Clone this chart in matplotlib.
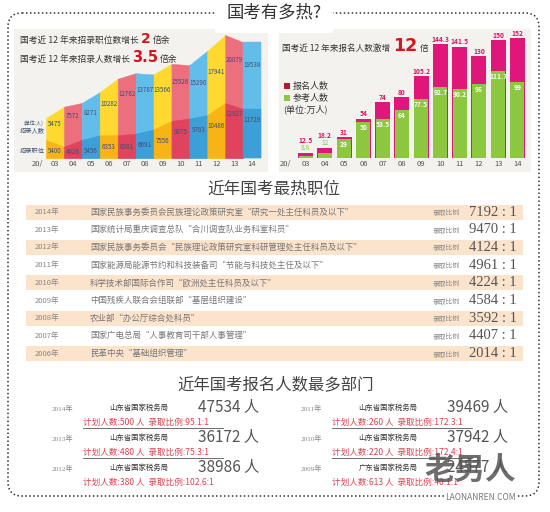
import numpy as np
import matplotlib.pyplot as plt
from matplotlib.patches import FancyBboxPatch, Rectangle

plt.rcParams['font.family'] = ['Noto Sans CJK SC', 'DejaVu Sans']

# ---- data ----
years = ['03', '04', '05', '06', '07', '08', '09', '10', '11', '12', '13', '14']
hire_people = [5475, 7572, 8271, 10282, 12762, 13787, 13566, 15526, 15290, 17941, 20879, 19538]
hire_posts = [5400, 4026, 5456, 6353, 6361, 6691, 7556, 9275, 9763, 10486, 12927, 11729]
applicants = [12.5, 18.2, 31, 54, 74, 80, 105.2, 144.3, 141.5, 130, 150, 152]
examinees = [8.8, 12, 29, 50, 53.5, 64, 77.5, 92.7, 90.2, 96, 111.7, 99]

hot_years = [2014, 2013, 2012, 2011, 2010, 2009, 2008, 2007, 2006]
hot_posts = ['国家民族事务委员会民族理论政策研究室“研究一处主任科员及以下”',
             '国家统计局重庆调查总队“合川调查队业务科室科员”',
             '国家民族事务委员会“民族理论政策研究室科研管理处主任科员及以下”',
             '国家能源局能源节约和科技装备司“节能与科技处主任及以下”',
             '科学技术部国际合作司“欧洲处主任科员及以下”',
             '中国残疾人联合会组联部“基层组织建设”',
             '农业部“办公厅综合处科员”',
             '国家广电总局“人事教育司干部人事管理”',
             '民革中央“基础组织管理”']
hot_ratios = [7192, 9470, 4124, 4961, 4224, 4584, 3592, 4407, 2014]

dept_years = [2014, 2013, 2012, 2011, 2010, 2009]
dept_names = ['山东省国家税务局'] * 5 + ['广东省国家税务局']
dept_counts = [47534, 36172, 38986, 39469, 37942, 24577]
dept_plan = [500, 480, 380, 260, 220, 613]
dept_ratio = [95.1, 75.3, 102.6, 172.3, 172.4, 40.1]

# ---- figure in pixel space ----
W, H = 550, 512
fig = plt.figure(figsize=(W / 100, H / 100), dpi=100)
bg = fig.add_axes([0, 0, 1, 1])
bg.set_xlim(0, W)
bg.set_ylim(H, 0)
bg.axis('off')


def frac(x0, y0, x1, y1):
    return [x0 / W, 1 - y1 / H, (x1 - x0) / W, (y1 - y0) / H]


# dotted frame and main title
bg.add_patch(FancyBboxPatch((8, 13), 531, 483, boxstyle='round,pad=0,rounding_size=14',
                            fill=False, ec='#333333', lw=1.1, ls=(0, (1, 1.6))))
bg.text(274, 13, '国考有多热?', ha='center', va='center', fontsize=12.5, color='#333333',
        bbox=dict(fc='white', ec='none', pad=8))

# panel backgrounds
bg.add_patch(Rectangle((14, 29), 254, 143, fc='#f3f2ee', ec='none'))
bg.add_patch(Rectangle((279, 29), 252, 143, fc='#f3f2ee', ec='none'))

# ---- left chart: hires ----
light = ['#ffd92f', '#ec6f7d', '#62bdea']
dark = ['#f8b415', '#e0435d', '#3d9fd8']
lab = '#3d4f73'

ax1 = fig.add_axes(frac(46, 30, 261, 158))
ax1.set_xlim(0, 12)
ax1.set_ylim(-1950, 21800)
ax1.axis('off')
ax1b = ax1.twinx()
ax1b.set_ylim(1730, 27770)
ax1b.axis('off')

top = hire_people + [hire_people[-1]]
low = hire_posts + [hire_posts[-1]]
for i in range(12):
    c = i % 3
    ax1.fill_between([i, i + 1], [top[i], top[i + 1]], -1950, color=light[c], lw=0.3, ec=light[c])
    ax1b.fill_between([i, i + 1], [low[i], low[i + 1]], 1730, color=dark[c], lw=0.3, ec=dark[c])
    ax1.text(i + 0.5, hire_people[i] * 0.78, str(hire_people[i]), ha='center', va='center',
             fontsize=4.5, color=lab)
    ax1b.text(i + 0.5, max(hire_posts[i] - 2300, 2950), str(hire_posts[i]), ha='center',
              va='center', fontsize=4.5, color=lab)
    ax1.annotate(years[i], xy=(i + 0.5, 0), xycoords=('data', 'axes fraction'),
                 xytext=(0, -4.5), textcoords='offset points', ha='center', va='center',
                 fontsize=5.5, color='#555555')
bg.text(37, 164, '20/', ha='center', va='center', fontsize=5.5, color='#555555')
bg.text(24, 123, '(单位:人)', ha='left', va='center', fontsize=3.6, color=lab)
bg.text(20, 130, '招录人数', ha='left', va='center', fontsize=4.5, color=lab)
bg.text(20, 151, '招录职位', ha='left', va='center', fontsize=4.5, color=lab)

big = dict(color='#d7141e', fontweight='bold', family=['Liberation Sans Narrow', 'DejaVu Sans'])
t = bg.text(20, 43, '国考近 12 年来招录职位数增长', fontsize=6.3, color='#333333', va='baseline')
t = bg.annotate('2', xy=(1, 0), xycoords=t, xytext=(1.5, -1), textcoords='offset points',
                va='bottom', fontsize=10, **big)
bg.annotate('倍余', xy=(1, 0), xycoords=t, xytext=(1.5, 1), textcoords='offset points',
            va='bottom', fontsize=6.3, color='#333333')
t = bg.text(20, 62, '国考近 12 年来招录人数增长', fontsize=6.3, color='#333333', va='baseline')
t = bg.annotate('3.5', xy=(1, 0), xycoords=t, xytext=(1.5, -1), textcoords='offset points',
                va='bottom', fontsize=10.5, **big)
bg.annotate('倍余', xy=(1, 0), xycoords=t, xytext=(1.5, 1), textcoords='offset points',
            va='bottom', fontsize=6.3, color='#333333')

# ---- right chart: applicants ----
pink = '#e0177b'
green = '#8dc63f'
ax2 = fig.add_axes(frac(296, 30, 527, 158))
ax2.set_xlim(-0.5, 11.5)
ax2.set_ylim(6, 161.7)
ax2.axis('off')
x = np.arange(len(years))
ax2.bar(x, applicants, width=0.78, color=pink)
ax2.bar(x, examinees, width=0.72, color=green)
for i in range(len(years)):
    if examinees[i] < 20:
        ax2.annotate(f'{examinees[i]:g}', xy=(i, applicants[i]), xytext=(0, 0.8),
                     textcoords='offset points', ha='center', va='bottom', fontsize=4.8, color=green)
        dy = 6.5
    else:
        ax2.annotate(f'{examinees[i]:g}', xy=(i, examinees[i]), xytext=(0, -1.5),
                     textcoords='offset points', ha='center', va='top', fontsize=4.8,
                     color='white', fontweight='bold')
        dy = 0.8
    ax2.annotate(f'{applicants[i]:g}', xy=(i, applicants[i]), xytext=(0, dy),
                 textcoords='offset points', ha='center', va='bottom', fontsize=4.8,
                 color='#d6145f', fontweight='bold')
    ax2.annotate(years[i], xy=(i, 0), xycoords=('data', 'axes fraction'),
                 xytext=(0, -4.5), textcoords='offset points', ha='center', va='center',
                 fontsize=5.5, color='#555555')
bg.text(285, 164, '20/', ha='center', va='center', fontsize=5.5, color='#555555')

t = bg.text(282, 51, '国考近 12 年来报名人数激增', fontsize=6.2, color='#333333', va='baseline')
t = bg.annotate('12', xy=(1, 0), xycoords=t, xytext=(2, -1.5), textcoords='offset points',
                va='bottom', fontsize=12.5, **big)
bg.annotate('倍', xy=(1, 0), xycoords=t, xytext=(2, 1.5), textcoords='offset points',
            va='bottom', fontsize=6.2, color='#333333')

bg.add_patch(Rectangle((284, 83), 6, 6, fc='#b5192f', ec='none'))
bg.add_patch(Rectangle((284, 95), 6, 6, fc=green, ec='none'))
bg.text(293, 86, '报名人数', va='center', fontsize=6.5, color='#333333')
bg.text(293, 98, '参考人数', va='center', fontsize=6.5, color='#333333')
bg.text(283, 109, '(单位:万人)', va='center', fontsize=6.5, color='#333333')

# ---- hottest posts table ----
bg.text(274, 189, '近年国考最热职位', ha='center', va='center', fontsize=12, color='#444444')
for k in range(len(hot_years)):
    y = 212 + 17.7 * k
    if k % 2 == 0:
        bg.add_patch(Rectangle((26, y - 7.5), 497, 15, fc='#fbe3cc', ec='none'))
    bg.text(35, y, f'{hot_years[k]}年', va='center', fontsize=5.5, color='#888888')
    bg.text(90, y, hot_posts[k], va='center', fontsize=6.1, color='#777777')
    bg.text(433, y + 1, '录取比例', va='center', fontsize=4.9, color='#888888')
    bg.text(517, y, f'{hot_ratios[k]} : 1', ha='right', va='center', fontsize=10.5,
            color='#555555', family=['Liberation Serif', 'DejaVu Serif'])

# ---- departments with most applicants ----
bg.text(276, 385, '近年国考报名人数最多部门', ha='center', va='center', fontsize=11.8, color='#444444')
for k in range(len(dept_years)):
    col, row = divmod(k, 3)
    dx = 249 * col
    y = 408 + 30 * row
    bg.text(52 + dx, y, f'{dept_years[k]}年', va='center', fontsize=5.2, color='#888888',
            family=['Liberation Serif', 'Noto Sans CJK SC'])
    bg.text(139 + dx, y, dept_names[k], ha='center', va='center', fontsize=5.3, color='#333333')
    bg.text(198 + dx, y - 1, f'{dept_counts[k]} 人', va='center', fontsize=11, color='#555555',
            fontweight='light')
    bg.text(83 + dx, y + 14, f'计划人数:{dept_plan[k]} 人  录取比例:{dept_ratio[k]:g}:1',
            va='center', fontsize=6.2, color='#d9434f')
    if row < 2:
        bg.plot([83 + dx, 223 + dx], [y + 20, y + 20], color='#555555', lw=0.6)

# watermark
bg.text(470, 470, '老男人', ha='center', va='center', fontsize=22, color='#555555',
        alpha=0.85, fontweight='bold')
bg.text(480, 498, 'LAONANREN.COM', ha='center', va='center', fontsize=6, color='#777777',
        bbox=dict(fc='white', ec='none', pad=0.5))

fig.savefig('out.png', dpi=100, facecolor='white')
